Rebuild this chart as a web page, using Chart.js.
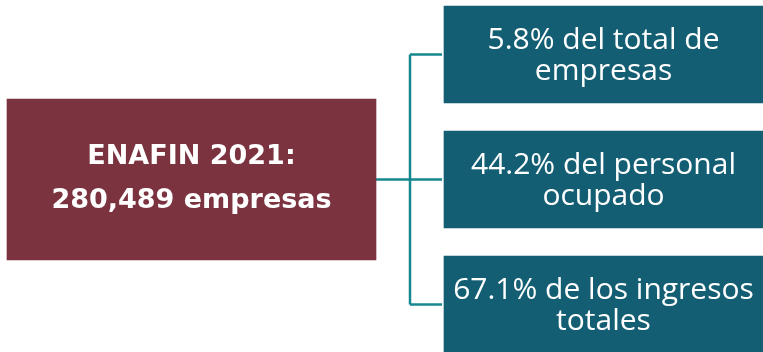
<!DOCTYPE html>
<html>
<head>
<meta charset="utf-8">
<script src="https://cdn.jsdelivr.net/npm/chart.js@4/dist/chart.umd.min.js"></script>
<style>
  html, body { margin: 0; padding: 0; background: #ffffff; overflow: hidden; width: 763px; height: 352px; }
  #wrap { position: absolute; left: 0; top: -8px; width: 763px; height: 375px; }
</style>
</head>
<body>
<div id="wrap"><canvas id="c" width="763" height="375"></canvas></div>
<script>
// ---- data ----
const surveyTitle = "ENAFIN 2021:";
const totalCompanies = 280489;
const companiesUnit = "empresas";
const shareValues = [5.8, 44.2, 67.1];
const shareFirstLines = ["del total de", "del personal", "de los ingresos"];
const shareSecondLines = ["empresas", "ocupado", "totales"];
const rowCategories = ["total de empresas", "personal ocupado", "ingresos totales"];

// ---- styles ----
const maroon = "#7B3340";
const petrol = "#135E73";
const connector = "#17878F";

const fmt = n => n.toLocaleString("en-US");
const rightLines = shareValues.map((v, i) => [v.toFixed(1) + "% " + shareFirstLines[i], shareSecondLines[i]]);
const leftLines = [surveyTitle, fmt(totalCompanies) + " " + companiesUnit];

const diagramPlugin = {
  id: "diagram",
  beforeDatasetsDraw(chart) {
    const ctx = chart.ctx;
    const right = chart.getDatasetMeta(0).data.map(e => e.getProps(["x", "y", "base", "height"], true));
    const left = chart.getDatasetMeta(1).data[1].getProps(["x", "y", "base", "height"], true);
    const lx = left.x, rx = right[0].base, mx = (lx + rx) / 2;
    ctx.save();
    ctx.strokeStyle = connector;
    ctx.lineWidth = 2.5;
    ctx.beginPath();
    ctx.moveTo(lx, left.y); ctx.lineTo(rx - 2, left.y);
    ctx.moveTo(mx, right[0].y); ctx.lineTo(mx, right[right.length - 1].y);
    right.forEach(r => { ctx.moveTo(mx, r.y); ctx.lineTo(r.base - 2, r.y); });
    ctx.stroke();
    ctx.restore();
  },
  afterDatasetsDraw(chart) {
    const ctx = chart.ctx;
    ctx.save();
    ctx.fillStyle = "#ffffff";
    ctx.textAlign = "center";
    ctx.textBaseline = "middle";
    chart.getDatasetMeta(0).data.forEach((e, i) => {
      const p = e.getProps(["x", "y", "base"], true);
      const cx = (p.x + p.base) / 2;
      ctx.font = "400 30px 'Open Sans'";
      ctx.fillText(rightLines[i][0], cx, p.y - 14);
      ctx.fillText(rightLines[i][1], cx, p.y + 17);
    });
    const l = chart.getDatasetMeta(1).data[1].getProps(["x", "y", "base"], true);
    const lcx = (l.x + l.base) / 2;
    ctx.font = "700 27px 'DejaVu Sans'";
    ctx.fillText(leftLines[0], lcx, l.y - 23);
    ctx.fillText(leftLines[1], lcx, l.y + 21);
    ctx.restore();
  }
};

new Chart(document.getElementById("c"), {
  type: "bar",
  data: {
    labels: rowCategories,
    datasets: [
      {
        label: "shares",
        data: shareValues.map(() => [444, 763]),
        backgroundColor: petrol,
        borderWidth: 0,
        barThickness: 97,
        grouped: false
      },
      {
        label: "enafin",
        data: [null, [7, 376], null],
        backgroundColor: maroon,
        borderWidth: 0,
        barThickness: 161,
        grouped: false
      }
    ]
  },
  options: {
    indexAxis: "y",
    responsive: false,
    animation: false,
    events: [],
    layout: { padding: 0 },
    plugins: { legend: { display: false }, tooltip: { enabled: false } },
    scales: {
      x: { type: "linear", min: 0, max: 763, display: false },
      y: { type: "category", display: false, offset: true }
    }
  },
  plugins: [diagramPlugin]
});
</script>
</body>
</html>
